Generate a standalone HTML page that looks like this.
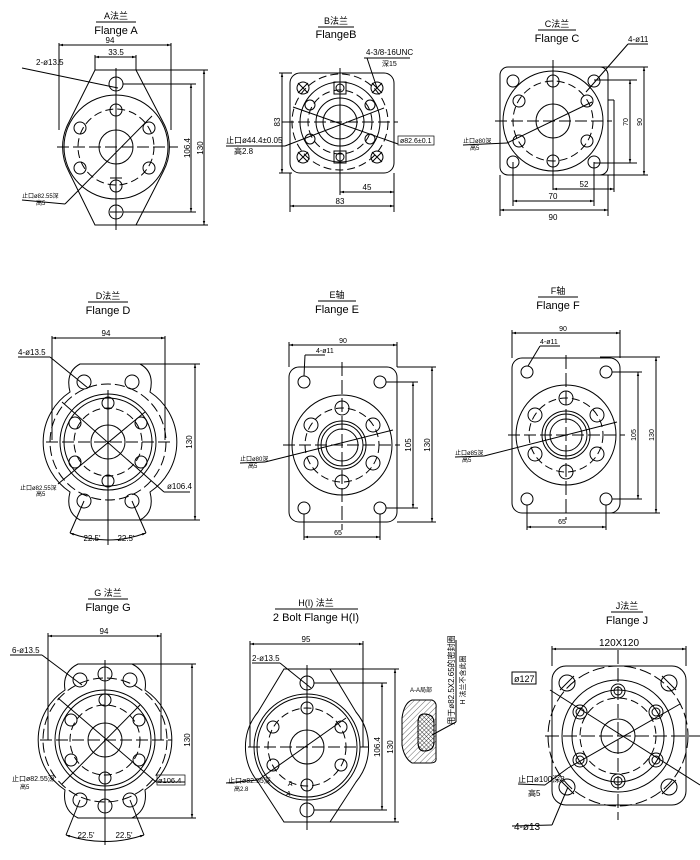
<!DOCTYPE html>
<html><head><meta charset="utf-8"><style>
html,body{margin:0;padding:0;background:#fff;}
svg{display:block;}
text{font-family:"Liberation Sans","Noto Sans CJK SC",sans-serif;fill:#000;}
.t{font-size:11px;}
.s{font-size:8px;}
.x{font-size:6px;}
</style></head><body>
<svg width="700" height="860" viewBox="0 0 700 860" xmlns="http://www.w3.org/2000/svg">
<defs>
<marker id="a" viewBox="0 0 10 10" refX="10" refY="5" markerWidth="6" markerHeight="4" orient="auto-start-reverse"><path d="M0,2 L10,5 L0,8z" fill="#000"/></marker>
<pattern id="h" width="4" height="4" patternUnits="userSpaceOnUse" patternTransform="rotate(45)"><line x1="0" y1="0" x2="0" y2="4" stroke="#000" stroke-width="0.6"/></pattern>
<pattern id="xh" width="3" height="3" patternUnits="userSpaceOnUse" patternTransform="rotate(45)"><path d="M0,0 L3,0 M0,0 L0,3" stroke="#000" stroke-width="0.7"/></pattern>
</defs>
<g fill="none" stroke="#000" stroke-width="1">

<!-- ===== A ===== -->
<path d="M95,70 L136,70 L163,122 A52,52 0 0 1 163,172 L136,225 L95,225 L69,172 A52,52 0 0 1 69,122 Z"/>
<circle cx="116" cy="147" r="52"/>
<circle cx="116" cy="147" r="38" stroke-dasharray="8,4"/>
<circle cx="116" cy="147" r="17"/>
<circle cx="116" cy="84" r="7"/><circle cx="116" cy="212" r="7"/>
<circle cx="116" cy="110" r="6"/><circle cx="116" cy="186" r="6"/>
<circle cx="80" cy="128" r="6"/><circle cx="149" cy="128" r="6"/>
<circle cx="80" cy="168" r="6"/><circle cx="149" cy="168" r="6"/>
<line x1="57" y1="147" x2="178" y2="147" stroke-dasharray="12,4"/>
<line x1="116" y1="68" x2="116" y2="230"/>
<line x1="110" y1="178" x2="122" y2="178"/><line x1="110" y1="212" x2="122" y2="212"/>
<line x1="65" y1="204" x2="152" y2="116"/><line x1="22" y1="200" x2="65" y2="204"/>
<line x1="22" y1="68" x2="118" y2="88"/>
<line x1="59" y1="45" x2="171" y2="45" marker-start="url(#a)" marker-end="url(#a)"/>
<line x1="59" y1="43" x2="59" y2="130"/><line x1="171" y1="43" x2="171" y2="130"/>
<line x1="95" y1="57" x2="136" y2="57" marker-start="url(#a)" marker-end="url(#a)"/>
<line x1="95" y1="55" x2="95" y2="70"/><line x1="136" y1="55" x2="136" y2="70"/>
<line x1="123" y1="84" x2="196" y2="84"/><line x1="123" y1="212" x2="196" y2="212"/>
<line x1="191" y1="84" x2="191" y2="212" marker-start="url(#a)" marker-end="url(#a)"/>
<line x1="136" y1="70" x2="208" y2="70"/><line x1="136" y1="225" x2="208" y2="225"/>
<line x1="204" y1="70" x2="204" y2="225" marker-start="url(#a)" marker-end="url(#a)"/>
<line x1="96" y1="22" x2="136" y2="22"/>

<!-- ===== B ===== -->
<rect x="290" y="73" width="104" height="100" rx="10"/>
<circle cx="340" cy="122" r="48" stroke-dasharray="8,4"/>
<circle cx="340" cy="122" r="40"/>
<circle cx="340" cy="122" r="32" stroke-dasharray="8,4"/>
<circle cx="340" cy="122" r="17"/>
<circle cx="340" cy="122" r="24"/>
<circle cx="303" cy="88" r="6"/><circle cx="377" cy="88" r="6"/>
<circle cx="303" cy="157" r="6"/><circle cx="377" cy="157" r="6"/>
<path d="M298,83 L308,93 M308,83 L298,93 M372,83 L382,93 M382,83 L372,93 M298,152 L308,162 M308,152 L298,162 M372,152 L382,162 M382,152 L372,162"/>
<rect x="334" y="82" width="12" height="12"/><circle cx="340" cy="88" r="4"/>
<rect x="334" y="151" width="12" height="12"/><circle cx="340" cy="157" r="4"/>
<circle cx="310" cy="105" r="5"/><circle cx="370" cy="105" r="5"/>
<circle cx="310" cy="139" r="5"/><circle cx="370" cy="139" r="5"/>
<line x1="282" y1="122" x2="398" y2="122" stroke-dasharray="12,4"/>
<line x1="340" y1="68" x2="340" y2="195"/>
<line x1="285" y1="146" x2="384" y2="108"/><line x1="226" y1="146" x2="285" y2="146"/>
<line x1="293" y1="107" x2="398" y2="144"/>
<line x1="367" y1="58" x2="377" y2="88"/><line x1="364" y1="58" x2="410" y2="58"/>
<line x1="282" y1="73" x2="282" y2="173" marker-start="url(#a)" marker-end="url(#a)"/>
<line x1="279" y1="73" x2="292" y2="73"/><line x1="279" y1="173" x2="292" y2="173"/>
<line x1="290" y1="173" x2="290" y2="212"/><line x1="394" y1="173" x2="394" y2="212"/>
<line x1="290" y1="206" x2="394" y2="206" marker-start="url(#a)" marker-end="url(#a)"/>
<line x1="340" y1="192" x2="394" y2="192" marker-start="url(#a)" marker-end="url(#a)"/>
<line x1="318" y1="27" x2="354" y2="27"/>

<!-- ===== C ===== -->
<rect x="500" y="67" width="108" height="108" rx="8"/>
<circle cx="553" cy="121" r="50"/>
<circle cx="553" cy="121" r="40" stroke-dasharray="8,4"/>
<circle cx="553" cy="121" r="17"/>
<circle cx="513" cy="81" r="6"/><circle cx="594" cy="81" r="6"/>
<circle cx="513" cy="162" r="6"/><circle cx="594" cy="162" r="6"/>
<circle cx="553" cy="81" r="6"/><circle cx="553" cy="161" r="6"/>
<circle cx="519" cy="101" r="6"/><circle cx="587" cy="101" r="6"/>
<circle cx="519" cy="141" r="6"/><circle cx="587" cy="141" r="6"/>
<line x1="495" y1="121" x2="612" y2="121" stroke-dasharray="12,4"/>
<line x1="553" y1="60" x2="553" y2="190"/>
<line x1="507" y1="143" x2="592" y2="102"/><line x1="463" y1="145" x2="507" y2="143"/>
<line x1="586" y1="92" x2="628" y2="44"/><line x1="628" y1="44" x2="648" y2="44"/>
<line x1="600" y1="67" x2="648" y2="67"/><line x1="600" y1="175" x2="648" y2="175"/>
<line x1="644" y1="67" x2="644" y2="175" marker-start="url(#a)" marker-end="url(#a)"/>
<line x1="594" y1="80" x2="637" y2="80"/><line x1="594" y1="163" x2="637" y2="163"/>
<line x1="630" y1="80" x2="630" y2="163" marker-start="url(#a)" marker-end="url(#a)"/>
<line x1="608" y1="100" x2="614" y2="100"/><line x1="614" y1="100" x2="614" y2="192"/>
<line x1="553" y1="189" x2="614" y2="189" marker-start="url(#a)" marker-end="url(#a)"/>
<line x1="513" y1="162" x2="513" y2="206"/><line x1="594" y1="162" x2="594" y2="206"/>
<line x1="513" y1="201" x2="594" y2="201" marker-start="url(#a)" marker-end="url(#a)"/>
<line x1="500" y1="175" x2="500" y2="216"/><line x1="608" y1="175" x2="608" y2="216"/>
<line x1="500" y1="210" x2="608" y2="210" marker-start="url(#a)" marker-end="url(#a)"/>
<line x1="538" y1="30" x2="576" y2="30"/>

<!-- ===== D ===== -->
<path d="M80,364 L140,364 Q155,372 150,392 A60,60 0 0 1 150,492 Q155,512 140,520 L80,520 Q65,512 70,492 A60,60 0 0 1 70,392 Q65,372 80,364 Z"/>
<circle cx="108" cy="442" r="58" stroke-dasharray="10,4"/>
<circle cx="108" cy="442" r="48"/>
<circle cx="108" cy="442" r="44"/>
<circle cx="108" cy="442" r="34" stroke-dasharray="8,4"/>
<circle cx="108" cy="442" r="17"/>
<circle cx="84" cy="382" r="7"/><circle cx="132" cy="382" r="7"/>
<circle cx="84" cy="501" r="7"/><circle cx="132" cy="501" r="7"/>
<circle cx="108" cy="403" r="6"/><circle cx="108" cy="481" r="6"/>
<circle cx="75" cy="423" r="6"/><circle cx="141" cy="423" r="6"/>
<circle cx="75" cy="462" r="6"/><circle cx="141" cy="462" r="6"/>
<line x1="46" y1="442" x2="172" y2="442" stroke-dasharray="12,4"/>
<line x1="108" y1="390" x2="108" y2="545"/>
<line x1="62" y1="402" x2="164" y2="492"/><line x1="164" y1="492" x2="190" y2="492"/>
<line x1="58" y1="484" x2="145" y2="412"/>
<line x1="18" y1="357" x2="50" y2="357"/><line x1="50" y1="357" x2="88" y2="388"/>
<line x1="52" y1="338" x2="165" y2="338" marker-start="url(#a)" marker-end="url(#a)"/>
<line x1="52" y1="336" x2="52" y2="440"/><line x1="165" y1="336" x2="165" y2="440"/>
<line x1="140" y1="364" x2="200" y2="364"/><line x1="140" y1="520" x2="200" y2="520"/>
<line x1="195" y1="364" x2="195" y2="520" marker-start="url(#a)" marker-end="url(#a)"/>
<line x1="84" y1="501" x2="70" y2="533"/><line x1="132" y1="501" x2="146" y2="533"/>
<path d="M70,533 Q108,547 146,533" marker-start="url(#a)" marker-end="url(#a)"/>
<line x1="88" y1="302" x2="128" y2="302"/>

<!-- ===== E ===== -->
<rect x="289" y="367" width="108" height="155" rx="10"/>
<circle cx="342" cy="445" r="50"/>
<circle cx="342" cy="445" r="37" stroke-dasharray="8,4"/>
<circle cx="342" cy="445" r="24"/><circle cx="342" cy="445" r="21"/><circle cx="342" cy="445" r="16"/>
<circle cx="304" cy="382" r="6"/><circle cx="380" cy="382" r="6"/>
<circle cx="304" cy="508" r="6"/><circle cx="380" cy="508" r="6"/>
<circle cx="342" cy="408" r="7"/><circle cx="342" cy="482" r="7"/>
<circle cx="311" cy="425" r="7"/><circle cx="373" cy="425" r="7"/>
<circle cx="311" cy="463" r="7"/><circle cx="373" cy="463" r="7"/>
<line x1="283" y1="445" x2="400" y2="445" stroke-dasharray="12,4"/>
<line x1="342" y1="362" x2="342" y2="530" stroke-dasharray="14,4"/>
<line x1="265" y1="462" x2="393" y2="430"/><line x1="240" y1="463" x2="265" y2="462"/>
<line x1="305" y1="355" x2="325" y2="355"/><line x1="305" y1="355" x2="304" y2="376"/>
<line x1="289" y1="345" x2="397" y2="345" marker-start="url(#a)" marker-end="url(#a)"/>
<line x1="289" y1="342" x2="289" y2="367"/><line x1="397" y1="342" x2="397" y2="367"/>
<line x1="386" y1="382" x2="418" y2="382"/><line x1="386" y1="508" x2="418" y2="508"/>
<line x1="413" y1="382" x2="413" y2="508" marker-start="url(#a)" marker-end="url(#a)"/>
<line x1="397" y1="367" x2="436" y2="367"/><line x1="397" y1="522" x2="436" y2="522"/>
<line x1="432" y1="367" x2="432" y2="522" marker-start="url(#a)" marker-end="url(#a)"/>
<line x1="304" y1="514" x2="304" y2="540"/><line x1="380" y1="514" x2="380" y2="540"/>
<line x1="304" y1="537" x2="380" y2="537" marker-start="url(#a)" marker-end="url(#a)"/>
<line x1="318" y1="301" x2="356" y2="301"/>

<!-- ===== F ===== -->
<rect x="512" y="358" width="108" height="155" rx="10"/>
<circle cx="566" cy="435" r="50"/>
<circle cx="566" cy="435" r="37" stroke-dasharray="8,4"/>
<circle cx="566" cy="435" r="24"/><circle cx="566" cy="435" r="21"/><circle cx="566" cy="435" r="16"/>
<circle cx="527" cy="372" r="6"/><circle cx="606" cy="372" r="6"/>
<circle cx="527" cy="499" r="6"/><circle cx="606" cy="499" r="6"/>
<circle cx="566" cy="398" r="7"/><circle cx="566" cy="472" r="7"/>
<circle cx="535" cy="415" r="7"/><circle cx="597" cy="415" r="7"/>
<circle cx="535" cy="454" r="7"/><circle cx="597" cy="454" r="7"/>
<line x1="508" y1="435" x2="625" y2="435" stroke-dasharray="12,4"/>
<line x1="566" y1="355" x2="566" y2="520" stroke-dasharray="14,4"/>
<line x1="484" y1="456" x2="617" y2="422"/><line x1="455" y1="457" x2="484" y2="456"/>
<line x1="540" y1="346" x2="560" y2="346"/><line x1="540" y1="346" x2="528" y2="366"/>
<line x1="512" y1="333" x2="620" y2="333" marker-start="url(#a)" marker-end="url(#a)"/>
<line x1="512" y1="330" x2="512" y2="358"/><line x1="620" y1="330" x2="620" y2="358"/>
<line x1="612" y1="372" x2="642" y2="372"/><line x1="612" y1="499" x2="642" y2="499"/>
<line x1="638" y1="372" x2="638" y2="499" marker-start="url(#a)" marker-end="url(#a)"/>
<line x1="600" y1="357" x2="660" y2="357"/><line x1="600" y1="513" x2="660" y2="513"/>
<line x1="656" y1="357" x2="656" y2="513" marker-start="url(#a)" marker-end="url(#a)"/>
<line x1="527" y1="505" x2="527" y2="530"/><line x1="606" y1="505" x2="606" y2="530"/>
<line x1="527" y1="527" x2="606" y2="527" marker-start="url(#a)" marker-end="url(#a)"/>
<line x1="538" y1="297" x2="578" y2="297"/>

<!-- ===== G ===== -->
<path d="M78,664 L132,664 Q148,672 145,690 A60,60 0 0 1 145,790 Q148,810 132,818 L78,818 Q62,810 65,790 A60,60 0 0 1 65,690 Q62,672 78,664 Z"/>
<circle cx="105" cy="740" r="62" stroke-dasharray="10,4"/>
<circle cx="105" cy="740" r="50"/>
<circle cx="105" cy="740" r="46"/>
<circle cx="105" cy="740" r="35" stroke-dasharray="8,4"/>
<circle cx="105" cy="740" r="17"/>
<circle cx="80" cy="680" r="7"/><circle cx="105" cy="674" r="7"/><circle cx="130" cy="680" r="7"/>
<circle cx="80" cy="800" r="7"/><circle cx="105" cy="806" r="7"/><circle cx="130" cy="800" r="7"/>
<circle cx="105" cy="700" r="6"/><circle cx="105" cy="778" r="6"/>
<circle cx="71" cy="720" r="6"/><circle cx="139" cy="720" r="6"/>
<circle cx="71" cy="760" r="6"/><circle cx="139" cy="760" r="6"/>
<line x1="40" y1="740" x2="172" y2="740" stroke-dasharray="12,4"/>
<line x1="105" y1="660" x2="105" y2="845"/>
<line x1="58" y1="698" x2="156" y2="782"/><line x1="156" y1="782" x2="185" y2="782"/>
<line x1="62" y1="784" x2="140" y2="705"/>
<line x1="10" y1="655" x2="42" y2="655"/><line x1="42" y1="655" x2="82" y2="685"/>
<line x1="48" y1="636" x2="161" y2="636" marker-start="url(#a)" marker-end="url(#a)"/>
<line x1="48" y1="633" x2="48" y2="740"/><line x1="161" y1="633" x2="161" y2="740"/>
<line x1="132" y1="664" x2="196" y2="664"/><line x1="132" y1="818" x2="196" y2="818"/>
<line x1="192" y1="664" x2="192" y2="818" marker-start="url(#a)" marker-end="url(#a)"/>
<line x1="80" y1="800" x2="66" y2="835"/><line x1="130" y1="800" x2="144" y2="835"/>
<path d="M66,835 Q105,848 144,835" marker-start="url(#a)" marker-end="url(#a)"/>
<line x1="88" y1="599" x2="128" y2="599"/>

<!-- ===== H ===== -->
<path d="M284,669 L330,669 L356,712 A55,55 0 0 1 356,782 L330,822 L284,822 L258,782 A55,55 0 0 1 258,712 Z"/>
<circle cx="307" cy="747" r="53"/>
<circle cx="307" cy="747" r="50"/>
<circle cx="307" cy="747" r="39" stroke-dasharray="8,4"/>
<circle cx="307" cy="747" r="17"/>
<circle cx="307" cy="683" r="7"/><circle cx="307" cy="810" r="7"/>
<circle cx="307" cy="708" r="6"/><circle cx="307" cy="785" r="6"/>
<circle cx="273" cy="727" r="6"/><circle cx="341" cy="727" r="6"/>
<circle cx="273" cy="765" r="6"/><circle cx="341" cy="765" r="6"/>
<line x1="248" y1="747" x2="368" y2="747" stroke-dasharray="12,4"/>
<line x1="307" y1="665" x2="307" y2="830"/>
<line x1="258" y1="780" x2="346" y2="718"/><line x1="226" y1="783" x2="258" y2="780"/>
<line x1="252" y1="663" x2="280" y2="663"/><line x1="280" y1="663" x2="311" y2="688"/>
<line x1="250" y1="644" x2="363" y2="644" marker-start="url(#a)" marker-end="url(#a)"/>
<line x1="250" y1="641" x2="250" y2="747"/><line x1="363" y1="641" x2="363" y2="747"/>
<line x1="314" y1="683" x2="387" y2="683"/><line x1="314" y1="810" x2="387" y2="810"/>
<line x1="382" y1="683" x2="382" y2="810" marker-start="url(#a)" marker-end="url(#a)"/>
<line x1="330" y1="669" x2="399" y2="669"/><line x1="330" y1="822" x2="399" y2="822"/>
<line x1="395" y1="669" x2="395" y2="822" marker-start="url(#a)" marker-end="url(#a)"/>
<line x1="275" y1="609" x2="358" y2="609"/>
<!-- section -->
<path d="M412,700 L432,700 Q437,702 436,708 L436,758 Q437,763 430,763 L412,763 Q404,758 402,745 L402,718 Q404,703 412,700 Z" fill="url(#h)"/>
<path d="M424,714 Q434,714 434,723 L434,742 Q434,751 424,751 Q418,751 418,742 L418,723 Q418,714 424,714 Z" fill="#fff"/>
<path d="M424,714 Q434,714 434,723 L434,742 Q434,751 424,751 Q418,751 418,742 L418,723 Q418,714 424,714 Z" fill="url(#xh)"/>
<line x1="432" y1="735" x2="456" y2="722"/><line x1="456" y1="722" x2="456" y2="640"/>

<!-- ===== J ===== -->
<rect x="552" y="666" width="134" height="139" rx="14"/>
<circle cx="618" cy="736" r="70" stroke-dasharray="12,4"/>
<circle cx="618" cy="736" r="56"/>
<circle cx="618" cy="736" r="46"/>
<circle cx="618" cy="736" r="38" stroke-dasharray="8,4"/>
<circle cx="618" cy="736" r="17"/>
<circle cx="567" cy="683" r="8"/><circle cx="669" cy="683" r="8"/>
<circle cx="567" cy="787" r="8"/><circle cx="669" cy="787" r="8"/>
<path d="M560,690 L574,676 M662,676 L676,690 M560,780 L574,794 M662,794 L676,780"/>
<circle cx="618" cy="691" r="7"/><circle cx="618" cy="691" r="4"/>
<circle cx="618" cy="781" r="7"/><circle cx="618" cy="781" r="4"/>
<circle cx="580" cy="712" r="7"/><circle cx="580" cy="712" r="4"/>
<circle cx="656" cy="712" r="7"/><circle cx="656" cy="712" r="4"/>
<circle cx="580" cy="760" r="7"/><circle cx="580" cy="760" r="4"/>
<circle cx="656" cy="760" r="7"/><circle cx="656" cy="760" r="4"/>
<line x1="545" y1="736" x2="700" y2="736" stroke-dasharray="14,4"/>
<line x1="618" y1="650" x2="618" y2="820" stroke-dasharray="14,4"/>
<line x1="550" y1="690" x2="700" y2="785"/>
<line x1="568" y1="768" x2="680" y2="704"/><line x1="545" y1="785" x2="568" y2="768"/>
<line x1="518" y1="784" x2="545" y2="785"/>
<line x1="568" y1="787" x2="552" y2="825"/><line x1="512" y1="826" x2="552" y2="825"/>
<line x1="552" y1="649" x2="686" y2="649" marker-start="url(#a)" marker-end="url(#a)"/>
<line x1="552" y1="646" x2="552" y2="666"/><line x1="686" y1="646" x2="686" y2="666"/>
<rect x="512" y="672" width="24" height="12"/>
<line x1="611" y1="612" x2="643" y2="612"/>
</g>

<!-- ===== TEXT ===== -->
<g class="t" text-anchor="middle">
<text x="116" y="19" font-size="9">A法兰</text><text x="116" y="34">Flange A</text>
<text x="336" y="24" font-size="9">B法兰</text><text x="336" y="38">FlangeB</text>
<text x="557" y="27" font-size="9">C法兰</text><text x="557" y="42">Flange C</text>
<text x="108" y="299" font-size="9">D法兰</text><text x="108" y="314">Flange D</text>
<text x="337" y="298" font-size="9">E轴</text><text x="337" y="313">Flange E</text>
<text x="558" y="294" font-size="9">F轴</text><text x="558" y="309">Flange F</text>
<text x="108" y="596" font-size="9">G 法兰</text><text x="108" y="611">Flange G</text>
<text x="316" y="606" font-size="9">H(I) 法兰</text><text x="316" y="621">2 Bolt Flange H(I)</text>
<text x="627" y="609" font-size="9">J法兰</text><text x="627" y="624">Flange J</text>
</g>
<g class="s">
<text x="110" y="43" text-anchor="middle">94</text>
<text x="116" y="55" text-anchor="middle">33.5</text>
<text x="36" y="65">2-ø13.5</text>
<text x="22" y="198" font-size="6">止口ø82.55深</text><text x="36" y="205" font-size="6">高5</text>
<text x="190" y="148" transform="rotate(-90 190 148)" text-anchor="middle">106.4</text>
<text x="203" y="148" transform="rotate(-90 203 148)" text-anchor="middle">130</text>

<text x="366" y="55">4-3/8-16UNC</text><text x="382" y="66" font-size="7">深15</text>
<text x="226" y="143">止口ø44.4±0.05</text><text x="234" y="154">高2.8</text>
<rect x="398" y="136" width="36" height="9" fill="none" stroke="#000" stroke-width="0.7"/><text x="400" y="143" font-size="7">ø82.6±0.1</text>
<text x="280" y="122" transform="rotate(-90 280 122)" text-anchor="middle">83</text>
<text x="367" y="190" text-anchor="middle">45</text>
<text x="340" y="204" text-anchor="middle">83</text>

<text x="628" y="42">4-ø11</text>
<text x="463" y="143" font-size="6">止口ø80深</text><text x="470" y="150" font-size="6">高5</text>
<text x="628" y="122" transform="rotate(-90 628 122)" text-anchor="middle" font-size="7">70</text>
<text x="642" y="122" transform="rotate(-90 642 122)" text-anchor="middle" font-size="7">90</text>
<text x="584" y="187" text-anchor="middle">52</text>
<text x="553" y="199" text-anchor="middle">70</text>
<text x="553" y="220" text-anchor="middle">90</text>

<text x="106" y="336" text-anchor="middle">94</text>
<text x="18" y="355">4-ø13.5</text>
<text x="20" y="490" font-size="6">止口ø82.55深</text><text x="36" y="496" font-size="6">高5</text>
<text x="167" y="489">ø106.4</text>
<text x="192" y="442" transform="rotate(-90 192 442)" text-anchor="middle">130</text>
<text x="92" y="541" text-anchor="middle">22.5'</text><text x="126" y="541" text-anchor="middle">22.5'</text>

<text x="343" y="343" text-anchor="middle" font-size="7">90</text>
<text x="316" y="353" font-size="7">4-ø11</text>
<text x="240" y="461" font-size="6">止口ø80深</text><text x="248" y="468" font-size="6">高5</text>
<text x="411" y="445" transform="rotate(-90 411 445)" text-anchor="middle">105</text>
<text x="430" y="445" transform="rotate(-90 430 445)" text-anchor="middle">130</text>
<text x="338" y="535" text-anchor="middle" font-size="7">65</text>

<text x="563" y="331" text-anchor="middle" font-size="7">90</text>
<text x="540" y="344" font-size="7">4-ø11</text>
<text x="455" y="455" font-size="6">止口ø85深</text><text x="462" y="462" font-size="6">高5</text>
<text x="636" y="435" transform="rotate(-90 636 435)" text-anchor="middle" font-size="7">105</text>
<text x="654" y="435" transform="rotate(-90 654 435)" text-anchor="middle" font-size="7">130</text>
<text x="562" y="524" text-anchor="middle" font-size="7">65</text>

<text x="104" y="634" text-anchor="middle">94</text>
<text x="12" y="653">6-ø13.5</text>
<text x="12" y="781" font-size="7">止口ø82.55深</text><text x="20" y="789" font-size="6">高5</text>
<rect x="157" y="775" width="28" height="10" fill="none" stroke="#000" stroke-width="0.7"/><text x="158" y="783" font-size="7.5">ø106.4</text>
<text x="190" y="740" transform="rotate(-90 190 740)" text-anchor="middle">130</text>
<text x="86" y="838" text-anchor="middle">22.5'</text><text x="124" y="838" text-anchor="middle">22.5'</text>

<text x="306" y="642" text-anchor="middle">95</text>
<text x="252" y="661">2-ø13.5</text>
<text x="228" y="783" font-size="7">止口ø82.55深</text><text x="234" y="791" font-size="6">高2.8</text>
<text x="380" y="747" transform="rotate(-90 380 747)" text-anchor="middle">106.4</text>
<text x="393" y="747" transform="rotate(-90 393 747)" text-anchor="middle">130</text>
<text x="288" y="786" font-size="7" font-style="italic">A</text><text x="286" y="796" font-size="7" font-style="italic">A</text>
<text x="410" y="692" font-size="6">A-A局部</text>
<text x="454" y="680" transform="rotate(-90 454 680)" text-anchor="middle" font-size="8">用于ø82.5X2.65的密封圈</text>
<text x="465" y="680" transform="rotate(-90 465 680)" text-anchor="middle" font-size="7">H 法兰不含此圈</text>

<text x="619" y="646" text-anchor="middle" font-size="10">120X120</text>
<text x="514" y="682" font-size="9">ø127</text>
<text x="518" y="782" font-size="8">止口ø100深8</text><text x="528" y="796" font-size="8">高5</text>
<text x="514" y="830" font-size="10">4-ø13</text>
</g>
</svg>
</body></html>
